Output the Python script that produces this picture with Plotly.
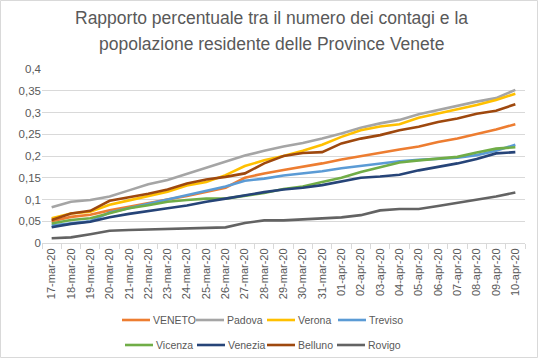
import plotly.graph_objects as go

dates = ["17-mar-20","18-mar-20","19-mar-20","20-mar-20","21-mar-20","22-mar-20","23-mar-20",
         "24-mar-20","25-mar-20","26-mar-20","27-mar-20","28-mar-20","29-mar-20","30-mar-20",
         "31-mar-20","01-apr-20","02-apr-20","03-apr-20","04-apr-20","05-apr-20","06-apr-20",
         "07-apr-20","08-apr-20","09-apr-20","10-apr-20"]

veneto  = [0.050,0.060,0.065,0.075,0.083,0.092,0.100,0.108,0.118,0.127,0.150,0.160,0.168,0.175,
           0.183,0.192,0.200,0.208,0.215,0.222,0.232,0.240,0.250,0.261,0.273]
padova  = [0.082,0.095,0.099,0.107,0.121,0.135,0.145,0.159,0.174,0.187,0.201,0.212,0.222,0.230,
           0.240,0.252,0.265,0.275,0.283,0.296,0.306,0.316,0.325,0.333,0.352]
verona  = [0.057,0.068,0.072,0.088,0.098,0.108,0.118,0.132,0.140,0.156,0.177,0.190,0.200,0.212,
           0.226,0.244,0.259,0.268,0.273,0.288,0.298,0.308,0.317,0.329,0.343]
treviso = [0.040,0.045,0.050,0.070,0.080,0.090,0.100,0.110,0.120,0.130,0.143,0.148,0.155,0.160,
           0.165,0.172,0.177,0.183,0.188,0.191,0.193,0.196,0.202,0.212,0.226]
vicenza = [0.045,0.053,0.057,0.068,0.080,0.087,0.095,0.099,0.102,0.102,0.109,0.115,0.124,0.130,
           0.140,0.150,0.163,0.174,0.185,0.190,0.194,0.198,0.208,0.217,0.220]
venezia = [0.036,0.044,0.049,0.059,0.067,0.074,0.080,0.086,0.095,0.102,0.110,0.117,0.123,0.127,
           0.133,0.142,0.150,0.153,0.157,0.167,0.175,0.183,0.193,0.206,0.209]
belluno = [0.053,0.068,0.074,0.097,0.105,0.113,0.123,0.137,0.146,0.152,0.160,0.183,0.200,0.207,
           0.209,0.229,0.240,0.248,0.259,0.267,0.278,0.286,0.297,0.304,0.319]
rovigo  = [0.011,0.013,0.020,0.028,0.030,0.031,0.033,0.033,0.034,0.036,0.046,0.052,0.052,0.054,
           0.056,0.059,0.064,0.075,0.078,0.078,0.085,0.092,0.100,0.107,0.116]

title_lines = ["Rapporto percentuale tra il numero dei contagi e la",
               "popolazione residente delle Province Venete"]

names  = ["VENETO", "Padova", "Verona", "Treviso", "Vicenza", "Venezia", "Belluno", "Rovigo"]
values = [veneto, padova, verona, treviso, vicenza, venezia, belluno, rovigo]
colors = ["#ED7D31", "#A5A5A5", "#FFC000", "#5B9BD5", "#70AD47", "#264478", "#9E480E", "#636363"]

# legend layout (pixel positions of each entry's swatch start, and row centres)
leg_x = [122, 196, 267, 338, 125, 197, 267, 337]
leg_row_y = [320, 320, 320, 320, 345, 345, 345, 345]
SW = 28  # swatch length in px

# plot-area geometry in px
L, R, T, B = 42, 525, 69, 243
W_PA, H_PA = R - L, B - T

def px_x(p):
    return (p - L) / W_PA

def px_y(p):
    return (B - p) / H_PA

fig = go.Figure()
for name, vals, col in zip(names, values, colors):
    fig.add_trace(go.Scatter(x=dates, y=vals, name=name, mode="lines",
                             line=dict(color=col, width=2.6), showlegend=False))

font_family = "Liberation Sans, Arial, sans-serif"
txt = "#595959"

annotations = []
for line, ypx in zip(title_lines, [18, 44]):
    annotations.append(dict(text=line, xref="paper", yref="paper", x=px_x(271), y=px_y(ypx),
                            xanchor="center", yanchor="middle", showarrow=False,
                            font=dict(size=17.5, color=txt, family=font_family)))

shapes = [dict(type="rect", xref="paper", yref="paper",
               x0=px_x(0.5), x1=px_x(537.5), y0=px_y(357.5), y1=px_y(0.5),
               line=dict(color="#D9D9D9", width=1), fillcolor="rgba(0,0,0,0)", layer="below")]

for name, col, lx, ly in zip(names, colors, leg_x, leg_row_y):
    shapes.append(dict(type="line", xref="paper", yref="paper",
                       x0=px_x(lx), x1=px_x(lx + SW), y0=px_y(ly), y1=px_y(ly),
                       line=dict(color=col, width=2.6)))
    annotations.append(dict(text=name, xref="paper", yref="paper", x=px_x(lx + SW + 1),
                            y=px_y(ly), xanchor="left", yanchor="middle", showarrow=False,
                            font=dict(size=10.5, color=txt, family=font_family)))

fig.update_layout(
    width=538, height=358,
    margin=dict(l=L, r=538 - R, t=T, b=358 - B),
    paper_bgcolor="white", plot_bgcolor="white",
    separators=", ",
    font=dict(family=font_family, size=11, color=txt),
    annotations=annotations,
    shapes=shapes,
    showlegend=False,
    xaxis=dict(type="category", range=[-0.5, 24.5], tickangle=-90, showgrid=False,
               showline=True, linecolor="#D9D9D9", linewidth=1,
               ticks="outside", tickson="boundaries", ticklen=5, tickcolor="#D9D9D9",
               tickfont=dict(size=11, color=txt)),
    yaxis=dict(range=[0, 0.4], dtick=0.05, showgrid=True, gridcolor="#D9D9D9", gridwidth=1,
               zeroline=False, showline=False, ticks="", tickfont=dict(size=11.5, color=txt)),
)

fig.write_html("out.html",
               config={"displayModeBar": False},
               post_script="document.body.style.margin='0';document.body.style.padding='0';"
                           "document.documentElement.style.overflow='hidden';")
